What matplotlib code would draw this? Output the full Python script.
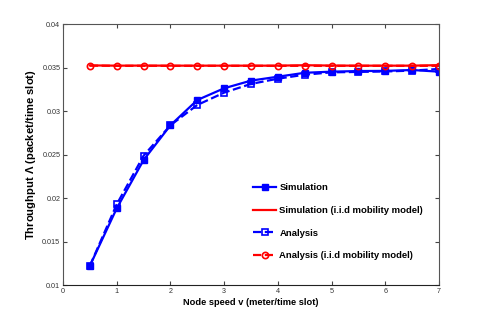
import matplotlib
matplotlib.use("Agg")
import matplotlib.pyplot as plt

plt.rcParams['font.family'] = ['Liberation Sans', 'DejaVu Sans']
plt.rcParams['mathtext.fontset'] = 'custom'
plt.rcParams['mathtext.rm'] = 'Liberation Sans'
plt.rcParams['mathtext.bf'] = 'Liberation Sans:bold'

speed = [0.5, 1.0, 1.5, 2.0, 2.5, 3.0, 3.5, 4.0, 4.5, 5.0, 5.5, 6.0, 6.5, 7.0]
sim = [0.01222, 0.01882, 0.02437, 0.02837, 0.03127, 0.03262, 0.03350, 0.03395,
       0.03440, 0.03453, 0.03460, 0.03462, 0.03472, 0.03453]
ana = [0.01222, 0.01928, 0.02487, 0.02837, 0.03070, 0.03212, 0.03312, 0.03372,
       0.03418, 0.03445, 0.03450, 0.03455, 0.03465, 0.03484]
sim_iid = [0.03525, 0.03522, 0.03523, 0.03522, 0.03522, 0.03522, 0.03522, 0.03522,
           0.03527, 0.03523, 0.03522, 0.03522, 0.03522, 0.03528]
ana_iid = [0.03522, 0.03520, 0.03520, 0.03520, 0.03520, 0.03520, 0.03520, 0.03520,
           0.03520, 0.03520, 0.03520, 0.03520, 0.03520, 0.03520]

fig = plt.figure(figsize=(4.85, 3.21), dpi=100)
ax = fig.add_axes([0.130, 0.112, 0.775, 0.813])

blue = '#0000ff'
red = '#ff0000'
ax.plot(speed, sim, '-', color=blue, lw=1.6, marker='s', ms=4.5,
        mfc=blue, mec=blue, label='Simulation')
ax.plot(speed, sim_iid, '-', color=red, lw=1.6, label='Simulation (i.i.d mobility model)')
ax.plot(speed, ana, '--', color=blue, lw=1.6, marker='s', ms=4.5,
        mfc='none', mec=blue, mew=1.2, label='Analysis')
ax.plot(speed, ana_iid, '--', color=red, lw=1.6, marker='o', ms=4.5,
        mfc='none', mec=red, mew=1.2, label='Analysis (i.i.d mobility model)')

ax.set_xlim(0, 7)
ax.set_ylim(0.01, 0.04)
ax.set_xticks(range(0, 8))
ax.set_yticks([0.01, 0.015, 0.02, 0.025, 0.03, 0.035, 0.04])
ax.set_yticklabels(['0.01', '0.015', '0.02', '0.025', '0.03', '0.035', '0.04'])
ax.tick_params(direction='in', top=True, right=True, labelsize=5.2, length=3,
               colors='#444444', labelcolor='#333333', pad=2)
for s in ax.spines.values():
    s.set_color('#555555')
    s.set_linewidth(0.8)
ax.spines['bottom'].set_color('#222222')

ax.set_xlabel('Node speed v (meter/time slot)', fontsize=6.7, fontweight='bold', labelpad=2)
ax.set_ylabel('Throughput $\\mathbf{\\Lambda}$ (packet/time slot)', fontsize=8.1,
              fontweight='bold', labelpad=3)

leg = ax.legend(loc='upper left', bbox_to_anchor=(0.505, 0.39), frameon=False,
                prop={'size': 6.8, 'weight': 'bold'}, handlelength=2.5,
                labelspacing=1.45, handletextpad=0.3, borderaxespad=0, borderpad=0)

fig.savefig('out.png', dpi=100, facecolor='white')
